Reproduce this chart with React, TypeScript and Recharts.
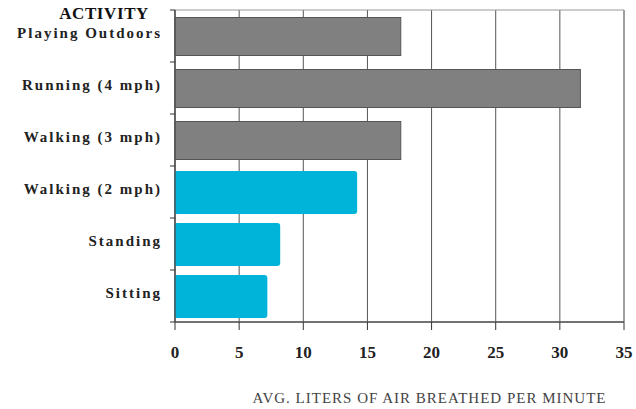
import { BarChart, Bar, XAxis, YAxis, CartesianGrid, ReferenceArea, Cell } from "recharts";

const activities = [
  "Playing Outdoors",
  "Running (4 mph)",
  "Walking (3 mph)",
  "Walking (2 mph)",
  "Standing",
  "Sitting",
];
const litersPerMinute = [17.6, 31.6, 17.6, 14.2, 8.2, 7.2];
const intensity = ["high", "high", "high", "low", "low", "low"];
const xTicks = [0, 5, 10, 15, 20, 25, 30, 35];

const data = activities.map((name, i) => ({
  name,
  liters: litersPerMinute[i],
  level: intensity[i],
}));

const W = 636;
const H = 409;
const TOP = 10;
const AXIS_W = 175;
const X_AXIS_H = 87;
const PLOT_H = H - TOP - X_AXIS_H;
const BAND = PLOT_H / activities.length;
const SERIF = "'Liberation Serif', 'Times New Roman', serif";

const ActivityTick = (props: any) => {
  const { x, y, payload, index } = props;
  const axisX = x + 15;
  return (
    <g>
      {index === 0 && (
        <text
          x={149}
          y={y - 17}
          textAnchor="end"
          fontFamily={SERIF}
          fontWeight="bold"
          fontSize={17}
          letterSpacing={0.6}
          fill="#111"
        >
          ACTIVITY
        </text>
      )}
      <text
        x={x + 2}
        y={y}
        dy={2}
        textAnchor="end"
        fontFamily={SERIF}
        fontWeight="bold"
        fontSize={15}
        letterSpacing={2}
        fill="#222"
      >
        {payload.value}
      </text>
      <line x1={axisX - 5} x2={axisX} y1={y - BAND / 2} y2={y - BAND / 2} stroke="#333" />
      {index === activities.length - 1 && (
        <line x1={axisX - 5} x2={axisX} y1={y + BAND / 2} y2={y + BAND / 2} stroke="#333" />
      )}
    </g>
  );
};

// gray bars are square and a bit thinner, the cyan ones get rounded corners
const ActivityBar = (props: any) => {
  const { x, y, width, height, payload } = props;
  if (payload.level === "high") {
    return <rect x={x} y={y + 2.5} width={width} height={height - 5} fill="#808080" stroke="#555" strokeWidth={1} />;
  }
  return <rect x={x - 1} y={y} width={width + 1} height={height} rx={3} ry={3} fill="#00b4d9" />;
};

export default function App() {
  return (
    <div style={{ position: "absolute", left: 0, top: 0, width: W, height: H, background: "#fff" }}>
      <BarChart
        width={W}
        height={H}
        data={data}
        layout="vertical"
        margin={{ top: TOP, right: 12, left: 0, bottom: 0 }}
        barSize={43}
      >
        <CartesianGrid horizontal={false} stroke="#555" />
        <ReferenceArea x1={0} x2={35} fill="none" stroke="#999" ifOverflow="visible" />
        <XAxis
          type="number"
          domain={[0, 35]}
          ticks={xTicks}
          height={X_AXIS_H}
          axisLine={{ stroke: "#555", strokeWidth: 1.5 }}
          tickLine={{ stroke: "#333" }}
          tickSize={8}
          tickMargin={16}
          tick={{ fontFamily: SERIF, fontWeight: "bold", fontSize: 17, fill: "#222" }}
          label={{
            value: "AVG. LITERS OF AIR BREATHED PER MINUTE",
            position: "insideBottom",
            offset: 6,
            dx: 30,
            fontFamily: SERIF,
            fontSize: 15,
            letterSpacing: 1,
            fill: "#444",
          }}
        />
        <YAxis
          type="category"
          dataKey="name"
          width={AXIS_W}
          axisLine={{ stroke: "#555", strokeWidth: 1.5 }}
          tickLine={false}
          tickSize={0}
          tickMargin={15}
          tick={<ActivityTick />}
          interval={0}
        />
        <Bar dataKey="liters" shape={<ActivityBar />} isAnimationActive={false}>
          {data.map((d) => (
            <Cell key={d.name} fill={d.level === "high" ? "#808080" : "#00b4d9"} />
          ))}
        </Bar>
      </BarChart>
    </div>
  );
}
